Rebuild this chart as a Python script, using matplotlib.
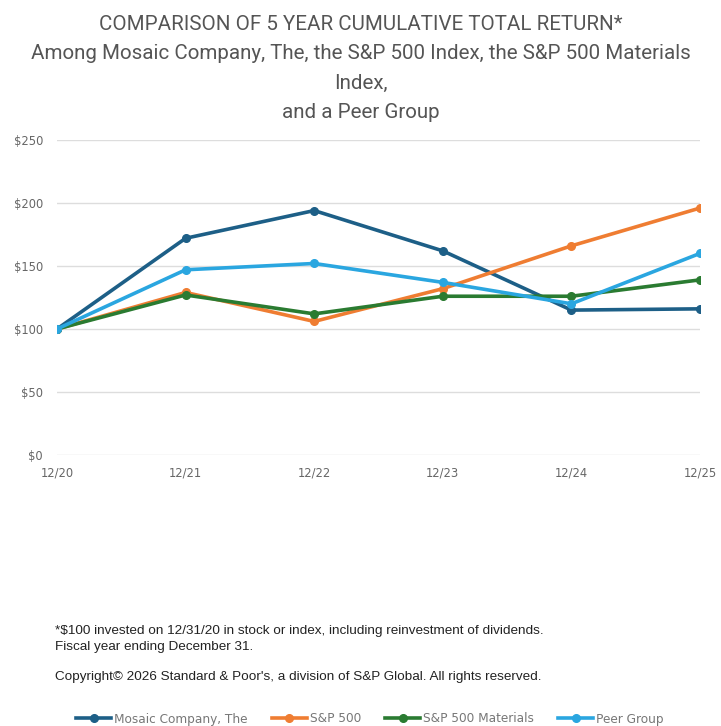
import matplotlib
matplotlib.use('Agg')
from matplotlib import pyplot as plt

years = ['12/20', '12/21', '12/22', '12/23', '12/24', '12/25']
mosaic = [100, 172, 194, 162, 115, 116]
sp500 = [100, 129, 106, 132, 166, 196]
materials = [100, 127, 112, 126, 126, 139]
peer = [100, 147, 152, 137, 120, 160]

series_names = ['Mosaic Company, The', 'S&P 500', 'S&P 500 Materials', 'Peer Group']
colors = ['#1d5f87', '#ef7d32', '#2a7b31', '#2aa6e0']
yticks = [0, 50, 100, 150, 200, 250]

W, H = 721, 726
fig = plt.figure(figsize=(W / 100, H / 100), dpi=100)
# axes box in pixels: x 57..700, y 140..455
ax = fig.add_axes([57 / W, 1 - 455 / H, (700 - 57) / W, (455 - 140) / H])

for vals, name, c in zip([mosaic, sp500, materials, peer], series_names, colors):
    ax.plot(range(len(years)), vals, color=c, lw=2.6, marker='o', ms=5.5, label=name)

ax.set_xlim(0, len(years) - 1)
ax.set_ylim(0, 250)
ax.set_yticks(yticks)
ax.set_yticklabels([f'${v}' for v in yticks])
ax.set_xticks(range(len(years)))
ax.set_xticklabels(years)
ax.tick_params(length=0, labelsize=8.3, labelcolor='#666666')
ax.tick_params(axis='y', pad=10)
ax.tick_params(axis='x', pad=8)
ax.grid(axis='y', color='#dddddd', lw=1)
ax.set_axisbelow(True)
for s in ax.spines.values():
    s.set_visible(False)

title = ('COMPARISON OF 5 YEAR CUMULATIVE TOTAL RETURN*\n'
         'Among Mosaic Company, The, the S&P 500 Index, the S&P 500 Materials\n'
         'Index,\nand a Peer Group')
fig.text(0.5, 1 - 15 / H, title, ha='center', va='top', fontsize=14.8, color='#555555',
         family='Roboto', linespacing=1.68)

fig.text(55 / W, 1 - 639 / H, '*$100 invested on 12/31/20 in stock or index, including reinvestment of dividends.\n'
         'Fiscal year ending December 31.', fontsize=9.7, family='Liberation Sans',
         color='#222222', va='center', linespacing=1.5)
fig.text(55 / W, 1 - 677 / H, 'Copyright\u00a9 2026 Standard & Poor\'s, a division of S&P Global. All rights reserved.',
         fontsize=9.7, family='Liberation Sans', color='#222222', va='center')

fig.legend(loc='center', bbox_to_anchor=(370 / W, 1 - 719 / H), ncol=4, frameon=False,
           fontsize=8.7, handlelength=2.9, columnspacing=2.0, handletextpad=0.25,
           labelcolor='#777777')

fig.savefig('out.png', dpi=100)
